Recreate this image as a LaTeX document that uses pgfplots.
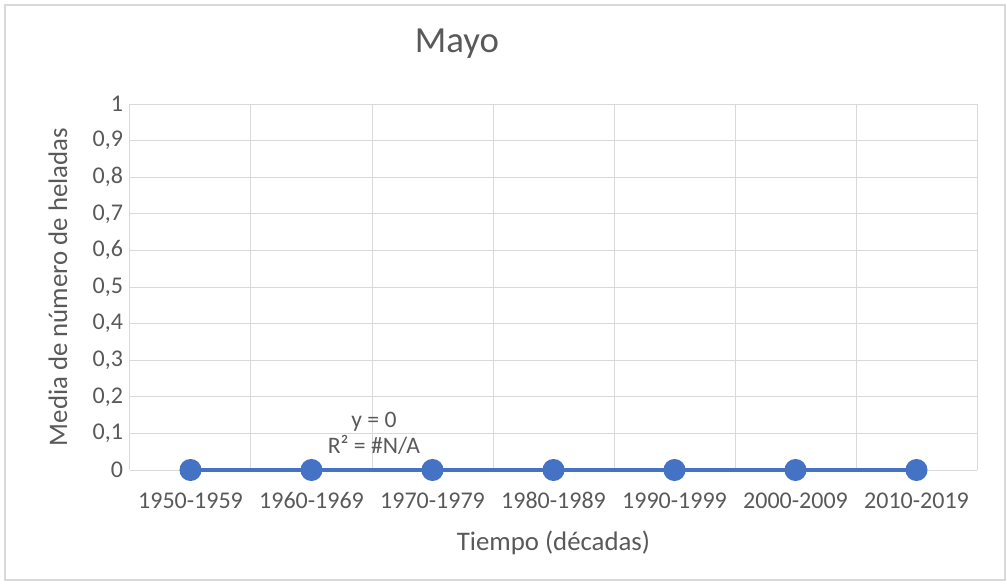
\documentclass[border=0pt]{standalone}
\usepackage{pgfplots}
\pgfplotsset{compat=1.18}
\usepackage{fontspec}
\setmainfont{Carlito}
\definecolor{serie}{HTML}{4472C4}
\definecolor{rejilla}{HTML}{D9D9D9}
\definecolor{texto}{HTML}{595959}
\begin{document}
\begin{tikzpicture}
\useasboundingbox (-65pt,-57.5pt) rectangle (438.5pt,235pt);
\draw[rejilla, line width=0.6pt] (-62.5pt,-55pt) rectangle (437.5pt,232.5pt);
\begin{axis}[
    scale only axis,
    width=423.5pt, height=183pt,
    xmin=-0.5, xmax=6.5,
    ymin=0, ymax=1,
    xtick={0,...,6},
    xticklabels={1950-1959,1960-1969,1970-1979,1980-1989,1990-1999,2000-2009,2010-2019},
    minor xtick={-0.5,0.5,...,6.5},
    ytick={0,0.1,...,1},
    xminorgrids=true, ymajorgrids=true,
    grid style={rejilla, line width=0.5pt},
    minor grid style={rejilla, line width=0.5pt},
    axis line style={draw=none},
    tick style={draw=none},
    clip=false,
    font=\fontsize{12pt}{14pt}\selectfont,
    /pgf/number format/assume math mode=true,
    yticklabel style={/pgf/number format/.cd, use comma, fixed, precision=1},
    yticklabel={\pgfmathprintnumber{\tick}},
    xticklabel style={yshift=-7.5pt, text height=8pt, text depth=2pt},
    ticklabel style={text=texto},
    xlabel={Tiempo (décadas)},
    ylabel={Media de número de heladas},
    xlabel style={at={(axis description cs:0.5,-0.1995)}, anchor=center,
        font=\fontsize{13.4pt}{16pt}\selectfont, text=texto},
    ylabel style={at={(axis description cs:-0.085,0.5)}, anchor=center,
        font=\fontsize{13.4pt}{16pt}\selectfont, text=texto},
    title={Mayo},
    title style={at={(axis description cs:0.386,1.169)}, anchor=center,
        yshift=-7pt,
        font=\fontsize{18.4pt}{22pt}\selectfont, text=texto},
]
% linea de tendencia (y = 0)
\addplot[serie!70, dotted, line width=1pt, forget plot] coordinates {
    (0,0) (6,0)};
\addplot[serie, line width=2pt, mark=*, mark size=4.5pt,
    mark options={fill=serie, draw=serie}] coordinates {
    (0,0) (1,0) (2,0) (3,0) (4,0) (5,0) (6,0)};
\node[text=texto, align=center, font=\fontsize{11.8pt}{13pt}\selectfont]
    at (axis cs:1.516,0.1) {y = 0\\R² = \#N/A};
\end{axis}
\end{tikzpicture}
\end{document}
